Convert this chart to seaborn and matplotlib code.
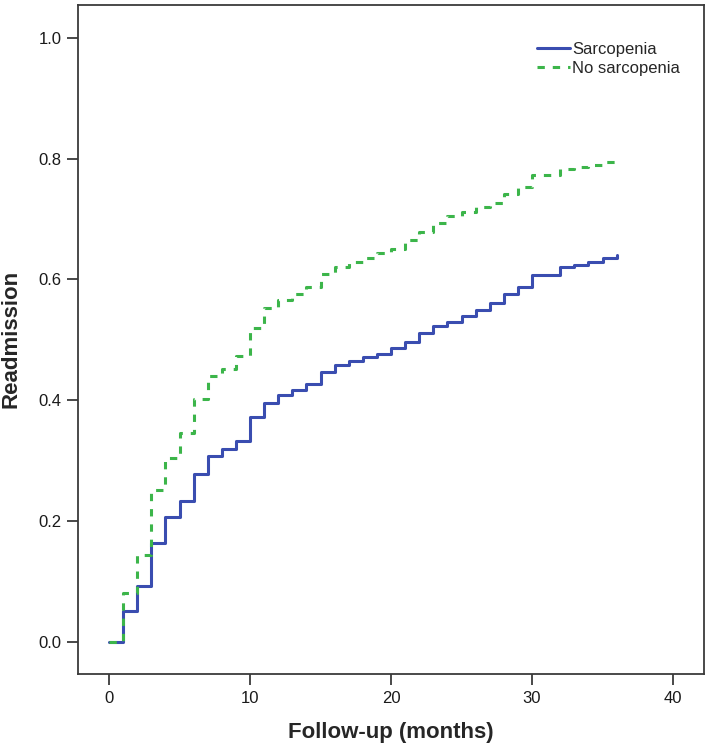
import matplotlib
matplotlib.use("Agg")
import matplotlib.pyplot as plt
import seaborn as sns
import pandas as pd
from matplotlib.lines import Line2D

# ---- data ----
months = list(range(0, 37))
sarcopenia = [0.0, 0.051, 0.093, 0.164, 0.206, 0.233, 0.277, 0.308, 0.319, 0.333,
              0.372, 0.396, 0.408, 0.417, 0.426, 0.447, 0.458, 0.465, 0.471, 0.477,
              0.486, 0.497, 0.511, 0.523, 0.530, 0.540, 0.549, 0.560, 0.576, 0.588,
              0.607, 0.607, 0.620, 0.624, 0.629, 0.636, 0.640]
no_sarcopenia = [0.0, 0.081, 0.144, 0.251, 0.304, 0.345, 0.402, 0.440, 0.452, 0.473,
                 0.520, 0.553, 0.566, 0.576, 0.588, 0.608, 0.621, 0.629, 0.635, 0.643,
                 0.651, 0.665, 0.679, 0.694, 0.704, 0.712, 0.720, 0.727, 0.742, 0.753,
                 0.773, 0.773, 0.782, 0.786, 0.789, 0.795, 0.800]
groups = ["Sarcopenia", "No sarcopenia"]
x_ticks = [0, 10, 20, 30, 40]
y_ticks = [0.0, 0.2, 0.4, 0.6, 0.8, 1.0]

df = pd.concat([
    pd.DataFrame({"time": months, "value": sarcopenia, "group": groups[0]}),
    pd.DataFrame({"time": months, "value": no_sarcopenia, "group": groups[1]}),
], ignore_index=True)

sns.set_style("ticks")
plt.rcParams["font.family"] = ["Liberation Sans", "DejaVu Sans"]

colors = {"Sarcopenia": "#3a4db0", "No sarcopenia": "#3cb54a"}

fig = plt.figure(figsize=(7.09, 7.5), dpi=100)
ax = fig.add_axes([0.110, 0.1013, 0.883, 0.8924])

sns.lineplot(data=df, x="time", y="value", hue="group", style="group",
             palette=colors, dashes={"Sarcopenia": "", "No sarcopenia": (2.4, 2.6)},
             drawstyle="steps-post", estimator=None, linewidth=2.2,
             legend=False, ax=ax)

ax.set_xlim(-2.2, 42.2)
ax.set_ylim(-0.0535, 1.0546)
ax.set_xticks(x_ticks)
ax.set_xticklabels([str(t) for t in x_ticks])
ax.set_yticks(y_ticks)
ax.set_yticklabels([f"{t:.1f}" for t in y_ticks])

for s in ax.spines.values():
    s.set_visible(True)
    s.set_color("#3a3a3a")
    s.set_linewidth(1.3)
ax.tick_params(axis="both", length=8, width=1.3, color="#3a3a3a",
               labelsize=12, pad=4, labelcolor="#1a1a1a")

ax.set_xlabel("Follow-up (months)", fontsize=16, fontweight="bold")
ax.set_ylabel("Readmission", fontsize=16, fontweight="bold")
ax.xaxis.set_label_coords(0.5, -0.071)
ax.yaxis.set_label_coords(-0.091, 0.5)

handles = [Line2D([], [], color=colors["Sarcopenia"], lw=2.2),
           Line2D([], [], color=colors["No sarcopenia"], lw=2.2, dashes=(2.4, 2.6))]
ax.legend(handles, groups, loc="upper left", bbox_to_anchor=(0.733, 0.945),
          frameon=False, fontsize=12, handlelength=2.0, handletextpad=0.1,
          borderpad=0, borderaxespad=0, labelspacing=0.25)

fig.savefig("out.png", dpi=100)
